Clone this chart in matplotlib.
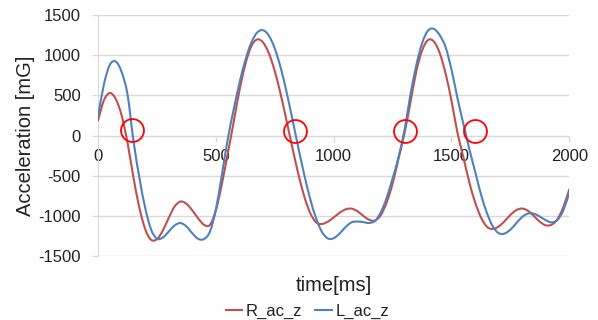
import numpy as np
import matplotlib
matplotlib.use("Agg")
import matplotlib.pyplot as plt
from matplotlib.path import Path
from matplotlib.patches import PathPatch
from matplotlib.lines import Line2D

# ── Data ──────────────────────────────────────────────────────
# samples every 25 ms, 0..2000 ms
time_ms = np.arange(0, 2001, 25)

r_ac_z = [
    190, 440, 529, 455, 250, -90, -520, -895, -1165, -1298,
    -1290, -1182, -1024, -883, -822, -850, -932, -1032, -1112, -1112,
    -930, -610, -230, 160, 560, 885, 1110, 1196, 1159, 1023,
    801, 513, 183, -156, -479, -757, -963, -1080, -1101, -1073,
    -1020, -962, -920, -910, -941, -999, -1048, -1059, -990, -832,
    -599, -290, 20, 400, 790, 1057, 1188, 1171, 1027, 771,
    433, 40, -265, -575, -829, -1019, -1134, -1164, -1133, -1067,
    -989, -929, -909, -938, -1003, -1074, -1118, -1110, -1040, -890,
    -670,
]
l_ac_z = [
    240, 640, 880, 921, 790, 510, -60, -520, -900, -1170,
    -1285, -1269, -1196, -1119, -1090, -1132, -1217, -1287, -1288, -1195,
    -920, -500, -50, 316, 652, 938, 1154, 1281, 1311, 1243,
    1083, 844, 541, 199, -152, -487, -786, -1029, -1199, -1281,
    -1278, -1221, -1141, -1082, -1071, -1078, -1089, -1063, -956, -775,
    -535, -270, 60, 495, 867, 1148, 1305, 1328, 1249, 1100,
    820, 470, 150, -160, -445, -730, -962, -1130, -1215, -1221,
    -1171, -1092, -1014, -971, -974, -1010, -1054, -1081, -1050, -930,
    -710,
]

# red circle annotations (time, value)
circle_t = [146, 836, 1303, 1600]
circle_v = [66, 62, 62, 62]

x_ticks = [0, 500, 1000, 1500, 2000]
y_ticks = [-1500, -1000, -500, 0, 500, 1000, 1500]

# ── Style ─────────────────────────────────────────────────────
RED = "#c0504d"
BLUE = "#4f81bd"
GRID = "#d9d9d9"
TEXT = "#222222"
plt.rcParams["font.family"] = ["Liberation Sans", "DejaVu Sans"]
plt.rcParams["axes.unicode_minus"] = False


def smooth_path(xs, ys):
    """Excel-style smoothed line: Catmull-Rom segments drawn as Bezier curves."""
    pts = np.column_stack([xs, ys]).astype(float)
    ext = np.vstack([pts[0], pts, pts[-1]])
    verts = [pts[0]]
    codes = [Path.MOVETO]
    for i in range(len(pts) - 1):
        p0, p1, p2, p3 = ext[i], ext[i + 1], ext[i + 2], ext[i + 3]
        verts += [p1 + (p2 - p0) / 6, p2 - (p3 - p1) / 6, p2]
        codes += [Path.CURVE4] * 3
    return Path(verts, codes)


fig = plt.figure(figsize=(5.98, 3.2), dpi=100, facecolor="white")
ax = fig.add_axes([0.164, 0.2, 0.788, 0.753])

for series, color, z in ((r_ac_z, RED, 3), (l_ac_z, BLUE, 4)):
    ax.add_patch(PathPatch(smooth_path(time_ms, series), fill=False,
                           edgecolor=color, lw=1.5, zorder=z,
                           capstyle="round", joinstyle="round"))

ax.plot(circle_t, circle_v, ls="none", marker="o", ms=16.5,
        markerfacecolor="none", markeredgecolor="#ff0000", mew=1.3, zorder=5)

ax.set_xlim(0, 2000)
ax.set_ylim(-1500, 1500)
ax.set_xticks(x_ticks)
ax.set_yticks(y_ticks)
ax.yaxis.grid(True, color=GRID, lw=1.0)
ax.set_axisbelow(True)

for s in ("top", "right"):
    ax.spines[s].set_visible(False)
ax.spines["left"].set_color(GRID)
ax.spines["bottom"].set_color(GRID)
ax.spines["bottom"].set_position(("data", 0))

ax.tick_params(axis="x", colors=GRID, length=4.5, width=1.0, pad=5,
               labelcolor=TEXT, labelsize=12)
ax.tick_params(axis="y", colors=GRID, length=4.5, width=1.0, pad=8,
               labelcolor=TEXT, labelsize=12)

fig.text(0.558, 0.109, "time[ms]", ha="center", va="center",
         fontsize=14.5, color=TEXT)
fig.text(0.042, 0.577, "Acceleration [mG]", ha="center", va="center",
         rotation=90, fontsize=14.5, color=TEXT)

handles = [Line2D([], [], color=RED, lw=1.5, label="R_ac_z"),
           Line2D([], [], color=BLUE, lw=1.5, label="L_ac_z")]
fig.legend(handles=handles, loc="center", bbox_to_anchor=(0.514, 0.026),
           ncol=2, frameon=False, fontsize=12, handlelength=1.0,
           handletextpad=0.2, columnspacing=0.8, labelcolor=TEXT)

fig.savefig("out.png", dpi=100, facecolor="white")
